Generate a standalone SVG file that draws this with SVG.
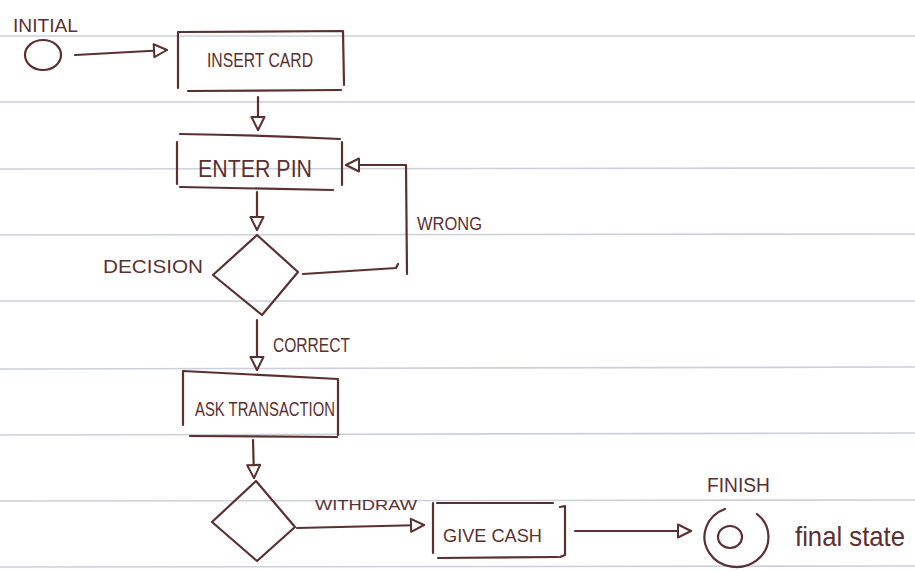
<svg xmlns="http://www.w3.org/2000/svg" width="915" height="571" viewBox="0 0 915 571">
<style>
.paper{stroke:#cdd0dc;stroke-width:1.6;fill:none}
.ink{stroke:#5b3030;stroke-width:2.2;fill:none;stroke-linecap:round;stroke-linejoin:round}
.t{font-family:"Liberation Sans","DejaVu Sans",sans-serif;fill:#5b3030}
</style>
<defs>
<marker id="open" markerUnits="userSpaceOnUse" markerWidth="18" markerHeight="16" refX="15" refY="8" orient="auto">
<path d="M2,1.5 L15,8 L2,14.5 Z" fill="#ffffff" stroke="#5b3030" stroke-width="2" stroke-linejoin="round"/>
</marker>
</defs>
<rect width="915" height="571" fill="#ffffff"/>
<g id="paper-lines">
<line class="paper" x1="0" y1="36" x2="915" y2="36"/>
<line class="paper" x1="0" y1="102" x2="915" y2="102"/>
<line class="paper" x1="0" y1="169" x2="915" y2="168"/>
<line class="paper" x1="0" y1="235" x2="915" y2="234"/>
<line class="paper" x1="0" y1="301" x2="915" y2="301"/>
<line class="paper" x1="0" y1="369" x2="915" y2="367"/>
<line class="paper" x1="0" y1="435" x2="915" y2="433"/>
<line class="paper" x1="0" y1="501" x2="915" y2="500"/>
<line class="paper" x1="0" y1="567" x2="915" y2="566"/>
</g>
<g id="connectors">
<path class="ink" d="M75,55 L167,50" marker-end="url(#open)"/>
<path class="ink" d="M258,97 L258,130" marker-end="url(#open)"/>
<path class="ink" d="M257,192 L257,230" marker-end="url(#open)"/>
<path class="ink" d="M303,274 Q350,271 396,268 L398,264"/>
<path class="ink" d="M407,274 L406,165 L346,165" marker-end="url(#open)"/>
<path class="ink" d="M257,320 L257,370" marker-end="url(#open)"/>
<path class="ink" d="M253,440 L254,478" marker-end="url(#open)"/>
<path class="ink" d="M297,528 L424,525" marker-end="url(#open)"/>
<path class="ink" d="M575,531 L691,531" marker-end="url(#open)"/>
</g>
<g id="initial">
<ellipse class="ink" cx="43" cy="55" rx="18" ry="15"/>
<text class="t" x="13" y="32" font-size="18" textLength="65" lengthAdjust="spacingAndGlyphs">INITIAL</text>
</g>
<g id="insert-card">
<path class="ink" d="M178,32 L178,88 M178,32 L343,31 L344,85 M188,91 L341,90"/>
<text class="t" x="207" y="67" font-size="20" textLength="106" lengthAdjust="spacingAndGlyphs">INSERT CARD</text>
</g>
<g id="enter-pin">
<path class="ink" d="M180,134 Q260,135 340,139 M177,142 L177,184 M342,142 L342,185 M180,187 L333,190"/>
<text class="t" x="198" y="177" font-size="24" textLength="114" lengthAdjust="spacingAndGlyphs">ENTER PIN</text>
</g>
<g id="decision">
<path class="ink" d="M257,235 L298,272 L262,315 L213,275 Z"/>
<text class="t" x="103" y="273" font-size="18" textLength="100" lengthAdjust="spacingAndGlyphs">DECISION</text>
</g>
<g id="label-wrong">
<text class="t" x="417" y="230" font-size="19" textLength="65" lengthAdjust="spacingAndGlyphs">WRONG</text>
</g>
<g id="label-correct">
<text class="t" x="273" y="352" font-size="20" textLength="77" lengthAdjust="spacingAndGlyphs">CORRECT</text>
</g>
<g id="ask-transaction">
<path class="ink" d="M183,371 L338,379 M183,372 L183,425 M338,380 L338,435 M190,436 L337,437"/>
<text class="t" x="195" y="416" font-size="21" textLength="140" lengthAdjust="spacingAndGlyphs">ASK TRANSACTION</text>
</g>
<g id="decision-2">
<path class="ink" d="M256,481 L295,527 L257,561 L212,522 Z"/>
</g>
<g id="label-withdraw">
<text class="t" x="315" y="510" font-size="15" textLength="102" lengthAdjust="spacingAndGlyphs">WITHDRAW</text>
</g>
<g id="give-cash">
<path class="ink" d="M433,503 L433,553 M437,503 L553,503 M560,507 L565,506 L565,555 L560,557 M438,558 L558,557"/>
<text class="t" x="443" y="542" font-size="19" textLength="99" lengthAdjust="spacingAndGlyphs">GIVE CASH</text>
</g>
<g id="final">
<path class="ink" d="M725,509 A32,30 0 1 0 757,514"/>
<ellipse class="ink" cx="730" cy="537" rx="12" ry="11"/>
<text class="t" x="707" y="492" font-size="20" textLength="63" lengthAdjust="spacingAndGlyphs">FINISH</text>
<text class="t" x="795" y="546" font-size="28" textLength="110" lengthAdjust="spacingAndGlyphs">final state</text>
</g>
</svg>
